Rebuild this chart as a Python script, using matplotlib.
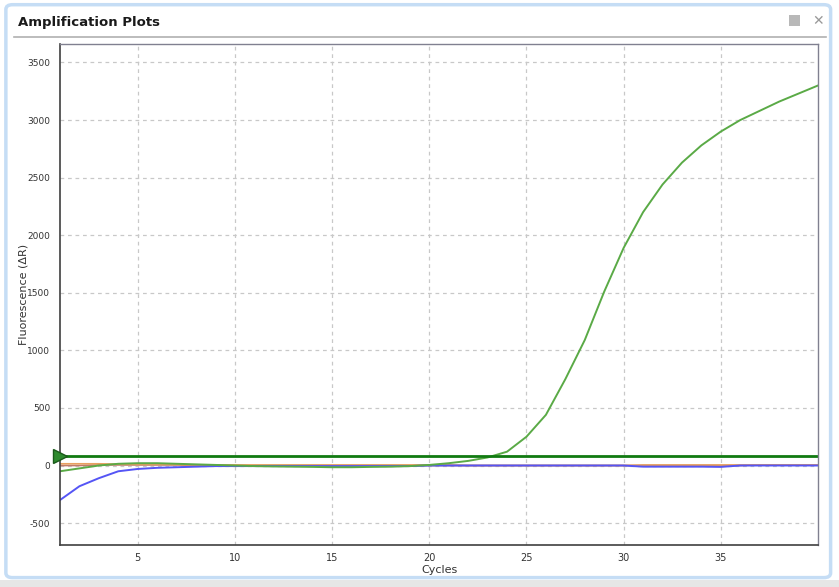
import matplotlib
matplotlib.use("Agg")
import matplotlib.pyplot as plt
from matplotlib.patches import FancyBboxPatch, Rectangle
from matplotlib.lines import Line2D
import numpy as np

plt.rcParams["axes.unicode_minus"] = False

cycles = list(range(1, 41))
green = [-50, -25, 0, 15, 20, 20, 15, 10, 5, 0,
         -5, -8, -10, -12, -15, -15, -12, -10, -5, 5,
         20, 40, 70, 120, 250, 440, 750, 1090, 1510, 1890,
         2200, 2440, 2630, 2780, 2900, 3000, 3080, 3160, 3230, 3300]
blue = [-300, -180, -110, -50, -30, -20, -15, -10, -5, -5,
        -5, -5, -5, -5, -5, -5, -5, -5, -5, 0,
        0, 0, 0, 0, 0, 0, 0, 0, 0, 0,
        -10, -10, -10, -10, -12, 0, 0, 0, 0, 0]
orange = [15, 15, 15, 12, 10, 10, 8, 5, 5, 5,
          5, 5, 5, 5, 5, 5, 5, 5, 5, 5,
          5, 0, 0, 0, 0, 0, 0, 0, 0, 0,
          5, 5, 5, 5, 5, 5, 5, 5, 5, 5]
red = [0, 0, 5, 5, 5, 5, 5, 0, 0, 0,
       0, 0, 0, 0, 0, 0, 0, 0, 0, 0,
       0, 0, 0, 0, 0, 0, 0, 0, 0, 0,
       0, 0, 0, 0, 0, 0, 5, 5, 5, 5]
threshold = 80
xticks = [5, 10, 15, 20, 25, 30, 35]
yticks = [-500, 0, 500, 1000, 1500, 2000, 2500, 3000, 3500]

fig = plt.figure(figsize=(8.39, 5.87), dpi=100)
fig.patch.set_facecolor("white")

# window frame
fig.patches.append(Rectangle((0, 0), 1, 0.012, transform=fig.transFigure,
                             facecolor="#e6e6e6", edgecolor="none", zorder=0))
frame = FancyBboxPatch((0.007, 0.016), 0.983, 0.976, boxstyle="round,pad=0,rounding_size=0.008",
                       transform=fig.transFigure, facecolor="white",
                       edgecolor="#c5ddf5", linewidth=2.5, zorder=1)
fig.patches.append(frame)
fig.lines.append(Line2D([0.017, 0.985], [0.937, 0.937], transform=fig.transFigure,
                        color="#b0b0b0", linewidth=1.2, zorder=2))
fig.text(0.022, 0.962, "Amplification Plots", fontsize=9.5, fontweight="bold",
         color="#1a1a1a", va="center", ha="left", family="DejaVu Sans")
fig.text(0.982, 0.965, "✕", fontsize=10, color="#999999", ha="right", va="center",
         fontweight="bold")
fig.patches.append(Rectangle((0.940, 0.955), 0.014, 0.02, transform=fig.transFigure,
                             facecolor="#b8b8b8", edgecolor="none", zorder=3))

ax = fig.add_axes([0.0715, 0.0716, 0.9035, 0.8534])
ax.set_zorder(5)
ax.plot(cycles, red, color="#c07a6a", lw=1.2)
ax.plot(cycles, orange, color="#e8a060", lw=1.2)
ax.plot(cycles, blue, color="#5555f5", lw=1.4)
ax.plot(cycles, green, color="#5aaa46", lw=1.4)
ax.axhline(threshold, color="#117a11", lw=2)
ax.plot([0.0], [threshold], marker=">", markersize=10, color="#2e8b2e",
        markeredgecolor="#1a5a1a", clip_on=False, transform=ax.get_yaxis_transform(),
        zorder=10)
ax.set_xlim(1, 40)
ax.set_ylim(-690, 3660)
ax.set_xticks(xticks)
ax.set_yticks(yticks)
ax.grid(True, color="#c8c8c8", linestyle=(0, (3, 3)), linewidth=0.9)
ax.tick_params(axis="both", labelsize=7, colors="#333333", length=0, pad=6)
ax.tick_params(axis="y", labelsize=6.5, pad=7)
for s in ["left", "bottom"]:
    ax.spines[s].set_color("#404040")
    ax.spines[s].set_linewidth(1.2)
for s in ["top", "right"]:
    ax.spines[s].set_color("#808090")
    ax.spines[s].set_linewidth(1.0)
ax.set_xlabel("Cycles", fontsize=8, color="#333333", labelpad=1)
ax.set_ylabel("Fluorescence (ΔR)", fontsize=8, color="#333333", labelpad=-1)

fig.savefig("out.png", dpi=100)
